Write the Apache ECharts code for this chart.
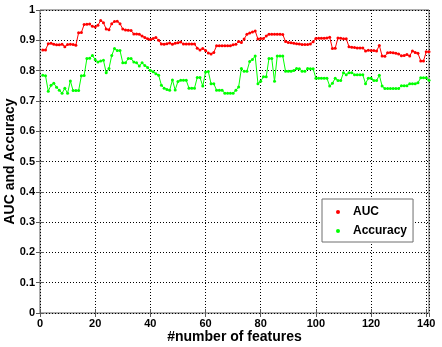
<!DOCTYPE html>
<html><head><meta charset="utf-8">
<script src="https://cdn.jsdelivr.net/npm/echarts@6/dist/echarts.min.js"></script>
<style>html,body{margin:0;padding:0;background:#fff}#c{width:442px;height:347px}</style>
</head><body><div id="c"></div>
<script>
var aucValues = [
0.868,0.868,0.889,0.890,0.887,0.885,0.885,0.887,0.879,0.886,
0.887,0.886,0.884,0.925,0.926,0.952,0.953,0.954,0.946,0.944,
0.950,0.965,0.958,0.937,0.935,0.955,0.962,0.963,0.955,0.937,
0.934,0.933,0.932,0.921,0.921,0.920,0.914,0.909,0.905,0.903,
0.906,0.909,0.900,0.888,0.887,0.889,0.891,0.887,0.890,0.892,
0.894,0.888,0.888,0.888,0.888,0.888,0.874,0.868,0.873,0.866,
0.858,0.855,0.860,0.882,0.882,0.882,0.882,0.882,0.882,0.885,
0.887,0.896,0.893,0.904,0.920,0.924,0.927,0.931,0.904,0.906,
0.906,0.914,0.920,0.920,0.920,0.920,0.920,0.919,0.896,0.893,
0.892,0.890,0.889,0.888,0.886,0.886,0.886,0.888,0.895,0.906,
0.907,0.907,0.907,0.908,0.910,0.873,0.874,0.908,0.907,0.905,
0.905,0.879,0.877,0.876,0.875,0.875,0.875,0.865,0.867,0.866,
0.866,0.865,0.883,0.848,0.847,0.859,0.860,0.859,0.857,0.855,
0.849,0.850,0.853,0.848,0.865,0.860,0.857,0.832,0.832,0.862,
0.862];
var accuracyValues = [
0.785,0.783,0.732,0.752,0.758,0.745,0.735,0.725,0.742,0.725,
0.766,0.734,0.734,0.734,0.783,0.784,0.840,0.841,0.850,0.836,
0.828,0.832,0.834,0.793,0.807,0.850,0.873,0.866,0.866,0.826,
0.826,0.840,0.840,0.828,0.826,0.815,0.826,0.817,0.810,0.800,
0.796,0.790,0.785,0.752,0.742,0.738,0.735,0.769,0.736,0.764,
0.768,0.768,0.768,0.742,0.742,0.742,0.777,0.777,0.749,0.795,
0.797,0.757,0.757,0.735,0.735,0.735,0.725,0.725,0.725,0.725,
0.735,0.746,0.807,0.798,0.798,0.830,0.837,0.848,0.757,0.765,
0.780,0.780,0.840,0.840,0.765,0.848,0.848,0.848,0.798,0.798,
0.798,0.800,0.807,0.806,0.798,0.798,0.807,0.806,0.806,0.775,
0.775,0.775,0.775,0.775,0.749,0.758,0.775,0.767,0.767,0.793,
0.786,0.793,0.793,0.786,0.786,0.786,0.786,0.757,0.775,0.775,
0.767,0.767,0.785,0.749,0.741,0.741,0.741,0.741,0.741,0.741,
0.750,0.750,0.750,0.757,0.757,0.757,0.760,0.776,0.776,0.776,
0.768];
var seriesNames = ['AUC', 'Accuracy'];
var xTitle = '#number of features';
var yTitle = 'AUC and Accuracy';
var xMin = 0, xMax = 141, xStep = 20;
var yMin = 0, yMax = 1, yStep = 0.1;

function pairs(vals){ return vals.map(function(v,i){ return [i+1, v]; }); }
var font = 'Liberation Sans';
var chart = echarts.init(document.getElementById('c'), null, {renderer:'canvas'});
var gridLine = {show:true, lineStyle:{color:'#000', type:[1,2], width:1}};
chart.setOption({
  animation:false,
  backgroundColor:'#fff',
  grid:{left:40, right:13, top:10, bottom:34, outerBoundsMode:'none', containLabel:false,
        show:true, borderColor:'#5a5a5a', borderWidth:1, backgroundColor:'#fff'},
  legend:{
    left:322, top:199, orient:'vertical', padding:[7,6,5,14],
    backgroundColor:'#fff', borderColor:'#6e6e6e', borderWidth:1,
    itemWidth:4, itemHeight:4, itemGap:7, icon:'circle',
    textStyle:{fontFamily:font, fontWeight:'bold', fontSize:12, color:'#000', padding:[0,0,0,8]},
    data:[{name:seriesNames[0], itemStyle:{color:'#ff0000'}},{name:seriesNames[1], itemStyle:{color:'#00ff00'}}]
  },
  xAxis:[{
    type:'value', min:xMin, max:xMax, interval:xStep,
    name:xTitle, nameLocation:'middle', nameGap:17, nameMoveOverlap:false,
    nameTextStyle:{fontFamily:font, fontWeight:'bold', fontSize:14, color:'#000'},
    axisLine:{show:false},
    axisTick:{show:true, inside:true, length:4, lineStyle:{color:'#5a5a5a'}},
    axisLabel:{fontFamily:font, fontWeight:'bold', fontSize:11, color:'#000', margin:5, showMaxLabel:false},
    splitLine:gridLine
  },{
    type:'value', position:'top', min:xMin, max:xMax, interval:xStep,
    axisLine:{show:false}, axisTick:{show:true, inside:true, length:4, lineStyle:{color:'#5a5a5a'}},
    axisLabel:{show:false}, splitLine:{show:false}
  }],
  yAxis:[{
    type:'value', min:yMin, max:yMax, interval:yStep,
    name:yTitle, nameLocation:'middle', nameGap:23, nameMoveOverlap:false,
    nameTextStyle:{fontFamily:font, fontWeight:'bold', fontSize:14, color:'#000'},
    axisLine:{show:false},
    axisTick:{show:true, inside:true, length:4, lineStyle:{color:'#5a5a5a'}},
    axisLabel:{fontFamily:font, fontWeight:'bold', fontSize:11, color:'#000', margin:5,
      formatter:function(v){ return String(parseFloat(v.toFixed(2))); }},
    splitLine:gridLine
  },{
    type:'value', position:'right', min:yMin, max:yMax, interval:yStep,
    axisLine:{show:false}, axisTick:{show:true, inside:true, length:4, lineStyle:{color:'#5a5a5a'}},
    axisLabel:{show:false}, splitLine:{show:false}
  }],
  series:[{
    name:seriesNames[0], type:'line', data:pairs(aucValues),
    symbol:'circle', symbolSize:3, showSymbol:true,
    lineStyle:{color:'#ff0000', width:1}, itemStyle:{color:'#ff0000'}
  },{
    name:seriesNames[1], type:'line', data:pairs(accuracyValues),
    symbol:'circle', symbolSize:3, showSymbol:true,
    lineStyle:{color:'#00ff00', width:1}, itemStyle:{color:'#00ff00'}
  }]
});
</script></body></html>
